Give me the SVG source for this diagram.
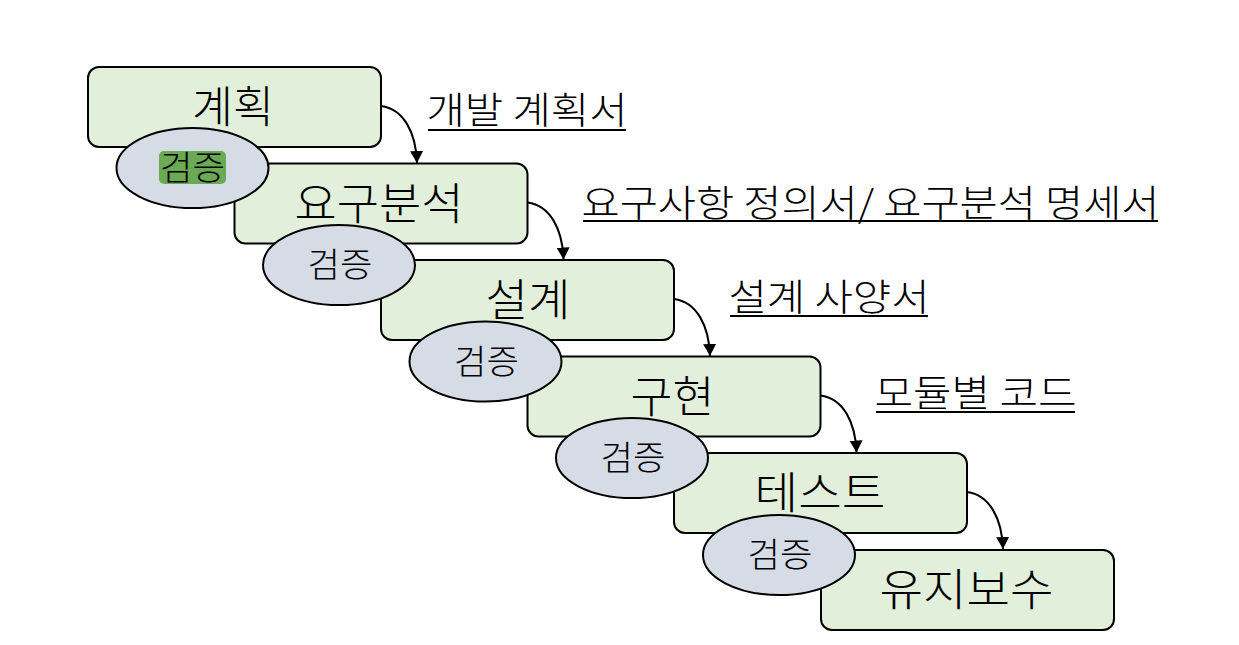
<svg xmlns="http://www.w3.org/2000/svg" width="1239" height="645" viewBox="0 0 1239 645">
<style>
.box{fill:#e2efda;stroke:#000;stroke-width:2}
.ell{fill:#d6dce5;stroke:#000;stroke-width:2}
.bt{font-family:"Noto Sans CJK KR","Noto Sans",sans-serif;font-weight:300;font-size:44px;text-anchor:middle;fill:#000}
.et{font-family:"Noto Sans CJK KR","Noto Sans",sans-serif;font-weight:300;font-size:34px;text-anchor:middle;fill:#000}
.lt{font-family:"Noto Sans CJK KR","Noto Sans",sans-serif;font-weight:300;font-size:37px;fill:#000}
.ul{stroke:#000;stroke-width:2}
.arr{fill:none;stroke:#000;stroke-width:2;marker-end:url(#ah)}
</style>
<defs>
<marker id="ah" viewBox="0 0 12 13" refX="12" refY="6.5" markerWidth="12" markerHeight="13" markerUnits="userSpaceOnUse" orient="auto">
<path d="M0,0 L12,6.5 L0,13 z" fill="#000"/>
</marker>
</defs>
<rect width="1239" height="645" fill="#fff"/>
<g id="step1"><rect class="box" x="88" y="67" width="293" height="80" rx="11"/><text class="bt" x="233" y="123" textLength="82" lengthAdjust="spacingAndGlyphs">계획</text></g>
<g id="step2"><rect class="box" x="234.5" y="163.5" width="293" height="80" rx="11"/><text class="bt" x="379" y="219.6" textLength="169" lengthAdjust="spacingAndGlyphs">요구분석</text></g>
<g id="step3"><rect class="box" x="381" y="260" width="293" height="80" rx="11"/><text class="bt" x="528" y="316.2" textLength="85" lengthAdjust="spacingAndGlyphs">설계</text></g>
<g id="step4"><rect class="box" x="527.5" y="356.5" width="293" height="80" rx="11"/><text class="bt" x="672.5" y="412.8" textLength="84" lengthAdjust="spacingAndGlyphs">구현</text></g>
<g id="step5"><rect class="box" x="674" y="453" width="293" height="80" rx="11"/><text class="bt" x="820" y="509.4" textLength="131" lengthAdjust="spacingAndGlyphs">테스트</text></g>
<g id="step6"><rect class="box" x="821" y="550" width="293" height="80" rx="11"/><text class="bt" x="966.5" y="606" textLength="174" lengthAdjust="spacingAndGlyphs">유지보수</text></g>
<g id="verify1"><ellipse class="ell" cx="192.5" cy="168" rx="76" ry="40"/><rect x="159" y="151" width="67" height="33" rx="5" fill="#6aaa55"/><text class="et" x="192.5" y="180" textLength="65" lengthAdjust="spacingAndGlyphs">검증</text></g>
<g id="verify2"><ellipse class="ell" cx="339" cy="265" rx="76" ry="40"/><text class="et" x="340" y="277" textLength="65" lengthAdjust="spacingAndGlyphs">검증</text></g>
<g id="verify3"><ellipse class="ell" cx="485.5" cy="361.5" rx="76" ry="40"/><text class="et" x="486.5" y="373.5" textLength="65" lengthAdjust="spacingAndGlyphs">검증</text></g>
<g id="verify4"><ellipse class="ell" cx="632" cy="458" rx="76" ry="40"/><text class="et" x="633" y="470" textLength="65" lengthAdjust="spacingAndGlyphs">검증</text></g>
<g id="verify5"><ellipse class="ell" cx="779" cy="555" rx="76" ry="40"/><text class="et" x="780" y="567" textLength="65" lengthAdjust="spacingAndGlyphs">검증</text></g>
<g id="connectors">
<path class="arr" d="M381,106 C404,109 416,133 417,163"/>
<path class="arr" d="M527.5,202.5 C550.5,205.5 562.5,229.5 563.5,259.5"/>
<path class="arr" d="M674,299 C697,302 709,326 710,356"/>
<path class="arr" d="M820.5,395.5 C843.5,398.5 855.5,422.5 856.5,452.5"/>
<path class="arr" d="M967,492 C990,495 1002,519 1003,549"/>
</g>
<g id="labels">
<text class="lt" x="426.5" y="124" textLength="201" lengthAdjust="spacingAndGlyphs">개발 계획서</text><line class="ul" x1="428" y1="130" x2="626" y2="130"/>
<text class="lt" x="581.5" y="216.5" textLength="578" lengthAdjust="spacingAndGlyphs">요구사항 정의서/ 요구분석 명세서</text><line class="ul" x1="583" y1="221" x2="1158" y2="221"/>
<text class="lt" x="728.5" y="311" textLength="201" lengthAdjust="spacingAndGlyphs">설계 사양서</text><line class="ul" x1="730" y1="316" x2="928" y2="316"/>
<text class="lt" x="874.5" y="406.5" textLength="202" lengthAdjust="spacingAndGlyphs">모듈별 코드</text><line class="ul" x1="876" y1="412" x2="1075" y2="412"/>
</g>
</svg>
